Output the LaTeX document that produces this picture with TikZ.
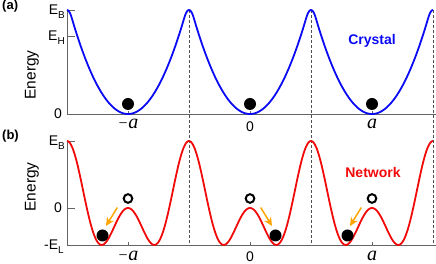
\documentclass[tikz,border=0pt]{standalone}
\usepackage{fontspec}
\setmainfont{Liberation Sans}
\newfontfamily\serifit{Liberation Serif}
\usetikzlibrary{arrows.meta}
\definecolor{axisgray}{RGB}{100,100,100}
\definecolor{dashgray}{RGB}{80,80,80}
\definecolor{curveblue}{RGB}{10,10,245}
\definecolor{curvered}{RGB}{240,10,10}
\definecolor{arrorange}{RGB}{255,165,0}
\newcommand{\Elab}[2]{E\raisebox{-3.5pt}{\fontsize{10}{10}\selectfont #2}}
\begin{document}
\begin{tikzpicture}[x=1pt,y=1pt,
  declare function={
    fold(\w)=abs(\w-2*round(\w/2));
    wellA(\v)=(\v<0.92)*(\v*\v/0.92)+(\v>=0.92)*(1-(1-\v)*(1-\v)/0.08);
  },
  axisline/.style={draw=axisgray, line width=0.9pt},
  tickline/.style={draw=axisgray, line width=0.9pt},
  guide/.style={draw=dashgray, line width=0.8pt, dash pattern=on 3pt off 2pt},
  curveb/.style={draw=curveblue, line width=1.8pt, line join=round},
  curver/.style={draw=curvered, line width=1.8pt, line join=round},
  ball/.style={circle, fill=black, minimum size=12pt, inner sep=0pt},
  hole/.style={circle, draw=black, line width=2pt, minimum size=8.6pt, inner sep=0pt},
  slide/.style={draw=arrorange, line width=1.5pt, -{Stealth[length=8.5pt,width=8pt,inset=2.5pt]}},
  ylab/.style={font=\fontsize{14}{14}\selectfont, inner sep=0pt, anchor=base east},
  xnum/.style={font=\fontsize{14}{14}\selectfont, inner sep=0pt, anchor=base},
  xa/.style={font=\fontsize{20}{20}\selectfont\serifit\itshape, inner sep=0pt, anchor=base},
  panel/.style={font=\fontsize{13}{13}\selectfont\bfseries, inner sep=0pt, anchor=base west},
  elab/.style={font=\fontsize{15.5}{15.5}\selectfont, inner sep=0pt, anchor=base, rotate=90},
  title/.style={font=\fontsize{14}{14}\selectfont\bfseries, inner sep=0pt}
]
\useasboundingbox (0,0) rectangle (436,264);

% ---------- panel (a) ----------
\coordinate (aO) at (67,150);
\coordinate (aTop) at (67,254);
\coordinate (aEnd) at (436,150);
\draw[axisline] (aTop) -- (aO) -- (aEnd);
\coordinate (aEBt) at (75,254);
\coordinate (aEHs) at (67,228);
\coordinate (aEHt) at (75,228);
\draw[tickline] (aTop) -- (aEBt);
\draw[tickline] (aEHs) -- (aEHt);
\foreach \i/\xx in {1/128,2/250,3/372}{
  \coordinate (at\i) at (\xx,150);
  \coordinate (at\i u) at (\xx,153);
  \draw[tickline] (at\i) -- (at\i u);
}

% dashed guides through both panels
\foreach \i/\xx in {1/189,2/311,3/433}{
  \coordinate (gtop\i) at (\xx,254);
  \coordinate (gbot\i) at (\xx,19);
  \draw[guide] (gtop\i) -- (gbot\i);
}

\draw[curveb] plot[domain=67:433, samples=367, variable=\x]
  (\x, {150 + 104*wellA(fold((\x-128)/61))});

\node[ball] (ba1) at (128,160) {};
\node[ball] (ba2) at (250,160) {};
\node[ball] (ba3) at (372,160) {};

\node[panel] (pa) at (2,254.5) {(a)};
\node[ylab] (aEB) at (65,249) {\Elab{E}{B}};
\node[ylab] (aEH) at (65,223) {\Elab{E}{H}};
\node[ylab] (a0) at (62,145) {0};
\node[elab] (aEn) at (35.5,189) {Energy};
\node[xa] (axm) at (128,135) {{\fontsize{16}{16}\selectfont −}a};
\node[xnum] (ax0) at (250,132) {0};
\node[xa] (axp) at (372,135) {a};
\node[title, text=curveblue] (cry) at (372,223) {Crystal};

% ---------- panel (b) ----------
\coordinate (bO) at (67,19);
\coordinate (bTop) at (67,123);
\coordinate (bEnd) at (436,19);
\draw[axisline] (bTop) -- (bO) -- (bEnd);
\coordinate (bEBt) at (75,123);
\coordinate (bZs) at (67,56);
\coordinate (bZt) at (75,56);
\draw[tickline] (bTop) -- (bEBt);
\draw[tickline] (bZs) -- (bZt);
\foreach \i/\xx in {1/128,2/250,3/372}{
  \coordinate (bt\i) at (\xx,19);
  \coordinate (bt\i u) at (\xx,22);
  \draw[tickline] (bt\i) -- (bt\i u);
}

\draw[curver] plot[domain=67:433, samples=367, variable=\x]
  (\x, {56 + (-0.23 - 32.17*cos(180*((\x-128)/61)) + 33.73*cos(360*((\x-128)/61)) - 1.328*cos(540*((\x-128)/61)))});

\node[hole] (h1) at (128,65.5) {};
\node[hole] (h2) at (250,65.5) {};
\node[hole] (h3) at (372,65.5) {};
\node[ball] (bb1) at (102.5,28.5) {};
\node[ball] (bb2) at (275.5,28.5) {};
\node[ball] (bb3) at (347.5,28.5) {};

\coordinate (s1) at (117.3,56.5);
\coordinate (e1) at (106,38);
\coordinate (s2) at (260.7,56.5);
\coordinate (e2) at (272,38);
\coordinate (s3) at (361.3,56.5);
\coordinate (e3) at (350,38);
\draw[slide] (s1) -- (e1);
\draw[slide] (s2) -- (e2);
\draw[slide] (s3) -- (e3);

\node[panel] (pb) at (2,124.5) {(b)};
\node[ylab] (bEB) at (65,118) {\Elab{E}{B}};
\node[ylab] (b0) at (62,51) {0};
\node[ylab] (bEL) at (64,14) {-\Elab{E}{L}};
\node[elab] (bEn) at (35.5,77) {Energy};
\node[xa] (bxm) at (128,3.5) {{\fontsize{16}{16}\selectfont −}a};
\node[xnum] (bx0) at (250,2.5) {0};
\node[xa] (bxp) at (372,3.5) {a};
\node[title, text=curvered] (net) at (373,91) {Network};
\end{tikzpicture}
\end{document}
